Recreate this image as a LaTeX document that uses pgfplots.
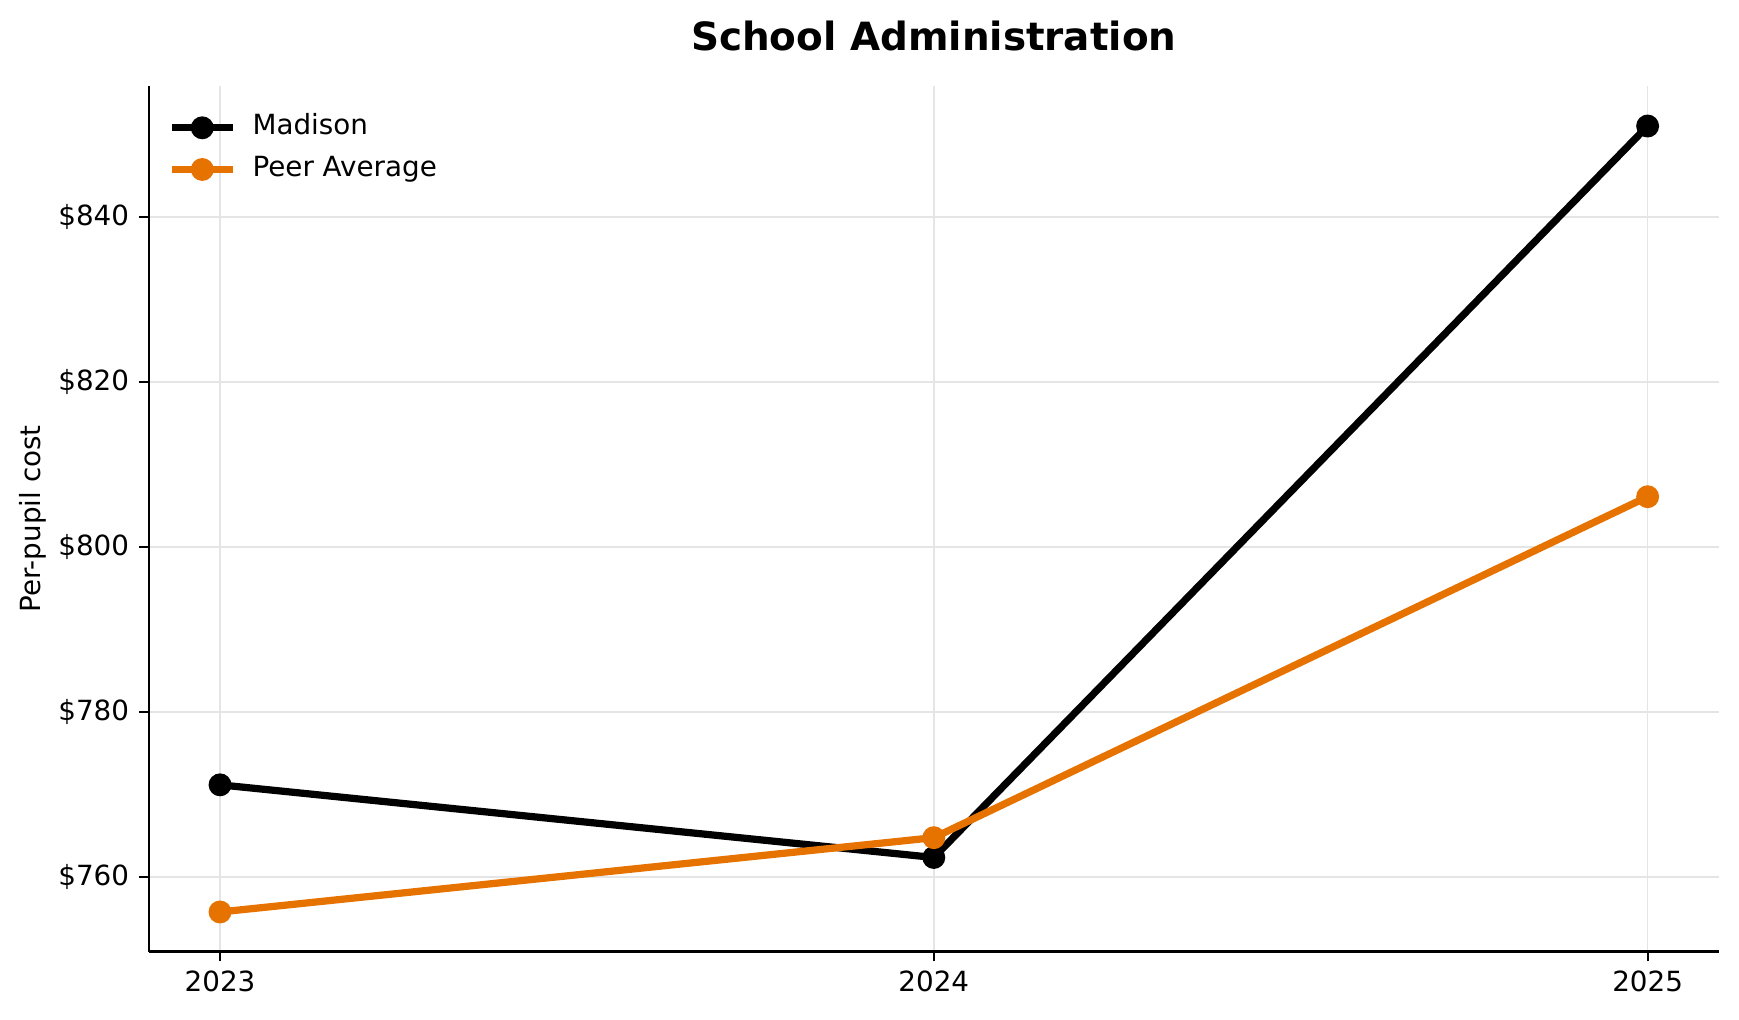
\documentclass[border=0pt]{standalone}
\usepackage{fontspec}
\setmainfont{DejaVu Sans}
\usepackage{pgfplots}
\pgfplotsset{compat=1.18}
\definecolor{peer}{RGB}{230,114,0}
\definecolor{gridc}{RGB}{229,229,229}

\begin{document}
\begin{tikzpicture}
\begin{axis}[
    name=ax,
    width=565.2pt, height=311.4pt,
    scale only axis,
    xmin=2022.9, xmax=2025.1,
    ymin=751.0, ymax=855.8,
    xtick={2023,2024,2025},
    ytick={760,780,800,820,840},
    xticklabel style={/pgf/number format/1000 sep={}},
    yticklabel={\$\pgfmathprintnumber{\tick}},
    /pgf/number format/assume math mode=true,
    tick label style={font=\fontsize{10}{12}\selectfont},
    axis lines*=left,
    axis line style={line width=0.8pt},
    tick style={black, line width=0.8pt},
    tick align=outside,
    major tick length=3.5pt,
    xtick pos=bottom, ytick pos=left,
    grid=major,
    major grid style={gridc, line width=0.6pt},
    ylabel={Per-pupil cost},
    ylabel style={font=\fontsize{10}{12}\selectfont,
        at={(axis description cs:-0.0736,0.5)}, anchor=center},
    legend cell align=left,
    legend style={draw=none, fill=none, at={(axis description cs:0,1)},
        anchor=north west, xshift=6.8pt, yshift=-7.2pt,
        inner sep=0pt, row sep=0pt, column sep=3.8pt,
        nodes={text height=8pt, text depth=3pt, inner sep=2pt},
        font=\fontsize{10}{12}\selectfont},
    legend image code/.code={
        \draw[mark repeat=2, mark phase=2] plot coordinates {(0pt,0pt) (11pt,0pt) (22pt,0pt)};},
]
\addplot[black, line width=2.6pt, mark=*, mark size=2.8pt]
    coordinates {(2023,771.2) (2024,762.4) (2025,851.0)};
\addlegendentry{Madison}
\addplot[peer, line width=2.6pt, mark=*, mark size=2.8pt, mark options={fill=peer}]
    coordinates {(2023,755.8) (2024,764.8) (2025,806.1)};
\addlegendentry{Peer Average}
\end{axis}
\node[anchor=base, font=\fontsize{14}{16}\selectfont\bfseries]
    at ([yshift=13pt]ax.north) {School Administration};
\pgfresetboundingbox
\path ([xshift=-53.5pt, yshift=-24.3pt]ax.south west) rectangle ([xshift=7.2pt, yshift=31.1pt]ax.north east);
\end{tikzpicture}
\end{document}
